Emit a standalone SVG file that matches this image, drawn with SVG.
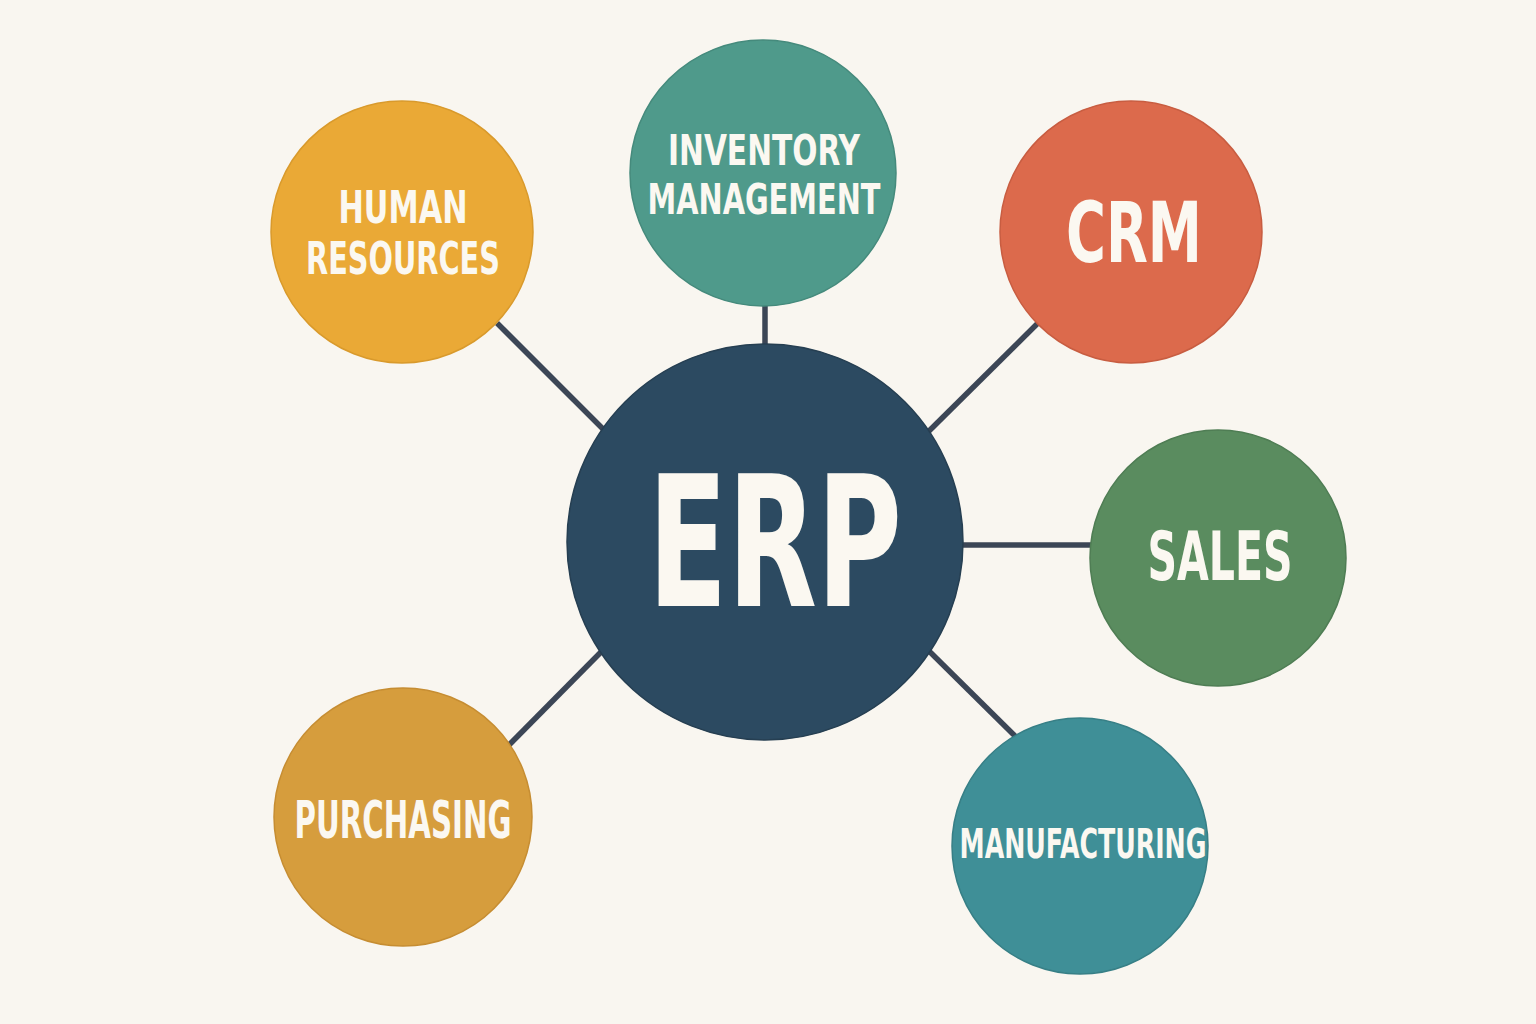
<svg xmlns="http://www.w3.org/2000/svg" width="1536" height="1024" viewBox="0 0 1536 1024">
<style>
.lbl{font-family:"DejaVu Sans","Liberation Sans",sans-serif;font-weight:bold;font-stretch:condensed;fill:#fbf8f1;text-anchor:middle}
.conn line{stroke:#3c4656;stroke-width:5.5;stroke-linecap:butt}
circle{stroke-width:1.5}
</style>
<rect width="1536" height="1024" fill="#f9f6f0"/>
<g id="connectors" class="conn">
<line x1="497" y1="323" x2="605" y2="431"/>
<line x1="765" y1="303" x2="765" y2="346"/>
<line x1="1038" y1="323" x2="928" y2="432"/>
<line x1="961" y1="545" x2="1092" y2="545"/>
<line x1="928" y1="650" x2="1016" y2="737"/>
<line x1="603" y1="650" x2="509" y2="745"/>
</g>
<g id="erp">
<circle cx="765" cy="542" r="198" fill="#2c4a61" stroke="#263f52"/>
<text class="lbl" x="775" y="606" font-size="182" textLength="254" lengthAdjust="spacingAndGlyphs">ERP</text>
</g>
<g id="human-resources">
<circle cx="402" cy="232" r="131" fill="#eaa936" stroke="#d99a2c"/>
<text class="lbl" x="403" y="223" font-size="44" textLength="129" lengthAdjust="spacingAndGlyphs">HUMAN</text>
<text class="lbl" x="403" y="274" font-size="44" textLength="194" lengthAdjust="spacingAndGlyphs">RESOURCES</text>
</g>
<g id="inventory-management">
<circle cx="763" cy="173" r="133" fill="#4f9a8b" stroke="#458a7c"/>
<text class="lbl" x="764" y="165" font-size="42" textLength="192" lengthAdjust="spacingAndGlyphs">INVENTORY</text>
<text class="lbl" x="764" y="214" font-size="42" textLength="233" lengthAdjust="spacingAndGlyphs">MANAGEMENT</text>
</g>
<g id="crm">
<circle cx="1131" cy="232" r="131" fill="#dc6a4c" stroke="#c85d41"/>
<text class="lbl" x="1134" y="262" font-size="84" textLength="136" lengthAdjust="spacingAndGlyphs">CRM</text>
</g>
<g id="sales">
<circle cx="1218" cy="558" r="128" fill="#5a8c5f" stroke="#4f7d54"/>
<text class="lbl" x="1220" y="580" font-size="68" textLength="145" lengthAdjust="spacingAndGlyphs">SALES</text>
</g>
<g id="manufacturing">
<circle cx="1080" cy="846" r="128" fill="#3f8f97" stroke="#377f86"/>
<text class="lbl" x="1083" y="858" font-size="41" textLength="247" lengthAdjust="spacingAndGlyphs">MANUFACTURING</text>
</g>
<g id="purchasing">
<circle cx="403" cy="817" r="129" fill="#d69d3d" stroke="#c68d32"/>
<text class="lbl" x="403" y="838" font-size="52" textLength="217" lengthAdjust="spacingAndGlyphs">PURCHASING</text>
</g>
</svg>
